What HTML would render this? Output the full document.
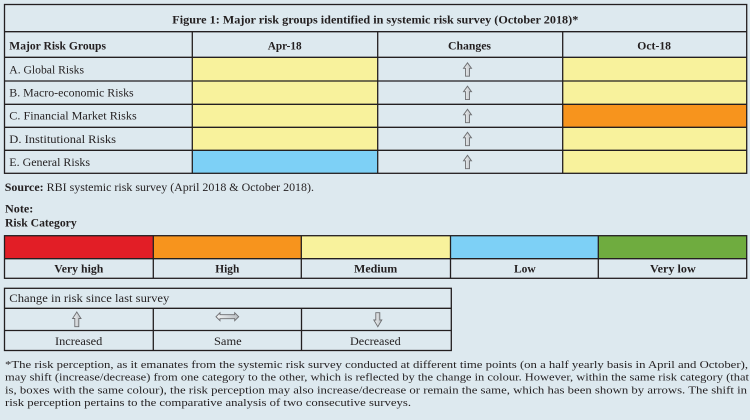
<!DOCTYPE html>
<html>
<head>
<meta charset="utf-8">
<style>
html,body{margin:0;padding:0;background:#dde9ef;}
svg{display:block;}
text{font-family:"Liberation Serif",serif;fill:#231f20;}
.b{font-weight:bold;}
</style>
</head>
<body>
<svg width="750" height="420" viewBox="0 0 750 420" xmlns="http://www.w3.org/2000/svg">
<rect x="0" y="0" width="750" height="420" fill="#dde9ef"/>

<!-- Main table colored cells -->
<rect x="192.3" y="57.3" width="185.4" height="93" fill="#f8f29c"/>
<rect x="192.3" y="150.3" width="185.4" height="23" fill="#7dd0f6"/>
<rect x="562.7" y="57.3" width="184" height="70" fill="#f8f29c"/>
<rect x="562.7" y="104.3" width="184" height="23" fill="#f7941d"/>
<rect x="562.7" y="127.3" width="184" height="46" fill="#f8f29c"/>

<!-- Main table lines -->
<g stroke="#231f20" stroke-width="1.3" fill="none">
<rect x="4.5" y="4.5" width="742.2" height="168.8"/>
<line x1="4.5" y1="31.7" x2="746.7" y2="31.7"/>
<line x1="4.5" y1="57.3" x2="746.7" y2="57.3"/>
<line x1="4.5" y1="81" x2="746.7" y2="81"/>
<line x1="4.5" y1="104.3" x2="746.7" y2="104.3"/>
<line x1="4.5" y1="127.3" x2="746.7" y2="127.3"/>
<line x1="4.5" y1="150.3" x2="746.7" y2="150.3"/>
<line x1="192.3" y1="31.7" x2="192.3" y2="173.3"/>
<line x1="377.7" y1="31.7" x2="377.7" y2="173.3"/>
<line x1="562.7" y1="31.7" x2="562.7" y2="173.3"/>
</g>

<!-- Main table text -->
<text class="b" x="172.3" y="23.3" font-size="12" textLength="406" lengthAdjust="spacingAndGlyphs">Figure 1: Major risk groups identified in systemic risk survey (October 2018)*</text>
<text class="b" x="9.3" y="49.3" font-size="12" textLength="96.7" lengthAdjust="spacingAndGlyphs">Major Risk Groups</text>
<text class="b" x="267.7" y="49.3" font-size="12" textLength="34" lengthAdjust="spacingAndGlyphs">Apr-18</text>
<text class="b" x="448" y="49.3" font-size="12" textLength="43" lengthAdjust="spacingAndGlyphs">Changes</text>
<text class="b" x="637.3" y="49.3" font-size="12" textLength="33.7" lengthAdjust="spacingAndGlyphs">Oct-18</text>

<text x="9.3" y="73.4" font-size="12" textLength="74.7" lengthAdjust="spacingAndGlyphs">A. Global Risks</text>
<text x="9.3" y="96.6" font-size="12" textLength="124.4" lengthAdjust="spacingAndGlyphs">B. Macro-economic Risks</text>
<text x="9.3" y="119.7" font-size="12" textLength="127.4" lengthAdjust="spacingAndGlyphs">C. Financial Market Risks</text>
<text x="9.3" y="142.8" font-size="12" textLength="106.7" lengthAdjust="spacingAndGlyphs">D. Institutional Risks</text>
<text x="9.3" y="165.9" font-size="12" textLength="80.7" lengthAdjust="spacingAndGlyphs">E. General Risks</text>

<!-- Main table arrows -->
<defs>
<linearGradient id="ag" x1="0" y1="0" x2="1" y2="0">
<stop offset="0" stop-color="#f2f4f5"/>
<stop offset="1" stop-color="#b9bec2"/>
</linearGradient>
</defs>
<g fill="url(#ag)" stroke="#6d6e71" stroke-width="0.9" stroke-linejoin="miter">
<polygon points="467.5,62.8 471.5,68.3 469.5,68.3 469.5,76.2 465.5,76.2 465.5,68.3 463.5,68.3"/>
<polygon points="467.5,86.2 471.5,91.7 469.5,91.7 469.5,99.6 465.5,99.6 465.5,91.7 463.5,91.7"/>
<polygon points="467.5,109.3 471.5,114.8 469.5,114.8 469.5,122.7 465.5,122.7 465.5,114.8 463.5,114.8"/>
<polygon points="467.5,132.3 471.5,137.8 469.5,137.8 469.5,145.7 465.5,145.7 465.5,137.8 463.5,137.8"/>
<polygon points="467.5,155.3 471.5,160.8 469.5,160.8 469.5,168.7 465.5,168.7 465.5,160.8 463.5,160.8"/>
</g>

<!-- Source -->
<text x="4.7" y="191" font-size="12" textLength="309.3" lengthAdjust="spacingAndGlyphs"><tspan class="b">Source:</tspan> RBI systemic risk survey (April 2018 &amp; October 2018).</text>

<!-- Note -->
<text class="b" x="5" y="212.5" font-size="12" textLength="28.3" lengthAdjust="spacingAndGlyphs">Note:</text>
<text class="b" x="5" y="226.5" font-size="12" textLength="71.7" lengthAdjust="spacingAndGlyphs">Risk Category</text>

<!-- Risk category legend -->
<rect x="4.5" y="235.7" width="148.8" height="23" fill="#e21e26"/>
<rect x="153.3" y="235.7" width="148" height="23" fill="#f7941d"/>
<rect x="301.3" y="235.7" width="149.2" height="23" fill="#f8f29c"/>
<rect x="450.5" y="235.7" width="147.8" height="23" fill="#7dd0f6"/>
<rect x="598.3" y="235.7" width="148.4" height="23" fill="#6fac3f"/>
<g stroke="#231f20" stroke-width="1.3" fill="none">
<rect x="4.5" y="235.7" width="742.2" height="42.6"/>
<line x1="4.5" y1="258.7" x2="746.7" y2="258.7"/>
<line x1="153.3" y1="235.7" x2="153.3" y2="278.3"/>
<line x1="301.3" y1="235.7" x2="301.3" y2="278.3"/>
<line x1="450.5" y1="235.7" x2="450.5" y2="278.3"/>
<line x1="598.3" y1="235.7" x2="598.3" y2="278.3"/>
</g>
<text class="b" x="54.3" y="272.7" font-size="12" textLength="49" lengthAdjust="spacingAndGlyphs">Very high</text>
<text class="b" x="215.3" y="272.7" font-size="12" textLength="24" lengthAdjust="spacingAndGlyphs">High</text>
<text class="b" x="354" y="272.7" font-size="12" textLength="43.3" lengthAdjust="spacingAndGlyphs">Medium</text>
<text class="b" x="514" y="272.7" font-size="12" textLength="21.7" lengthAdjust="spacingAndGlyphs">Low</text>
<text class="b" x="650" y="272.7" font-size="12" textLength="45.7" lengthAdjust="spacingAndGlyphs">Very low</text>

<!-- Change table -->
<g stroke="#231f20" stroke-width="1.3" fill="none">
<rect x="4.5" y="288.3" width="446.8" height="62.2"/>
<line x1="4.5" y1="308.3" x2="451.3" y2="308.3"/>
<line x1="4.5" y1="330.5" x2="451.3" y2="330.5"/>
<line x1="153.3" y1="308.3" x2="153.3" y2="350.5"/>
<line x1="301.5" y1="308.3" x2="301.5" y2="350.5"/>
</g>
<text x="9.3" y="302" font-size="12" textLength="160" lengthAdjust="spacingAndGlyphs">Change in risk since last survey</text>
<g fill="url(#ag)" stroke="#6d6e71" stroke-width="0.9">
<polygon points="76.8,312 81,318.5 78.8,318.5 78.8,326.7 74.8,326.7 74.8,318.5 72.6,318.5"/>
<polygon points="216,316.7 220,312.7 220,314.7 234.7,314.7 234.7,312.7 238.7,316.7 234.7,320.7 234.7,318.7 220,318.7 220,320.7"/>
<polygon points="377.8,326.7 373.8,320 375.8,320 375.8,312.7 379.8,312.7 379.8,320 381.8,320"/>
</g>
<text x="55" y="345.2" font-size="12" textLength="47.3" lengthAdjust="spacingAndGlyphs">Increased</text>
<text x="214" y="345.2" font-size="12" textLength="27.7" lengthAdjust="spacingAndGlyphs">Same</text>
<text x="350" y="345.2" font-size="12" textLength="50.7" lengthAdjust="spacingAndGlyphs">Decreased</text>

<!-- Footnote -->
<text x="5" y="367.8" font-size="11" textLength="743" lengthAdjust="spacingAndGlyphs">*The risk perception, as it emanates from the systemic risk survey conducted at different time points (on a half yearly basis in April and October),</text>
<text x="5" y="380.6" font-size="11" textLength="744" lengthAdjust="spacingAndGlyphs">may shift (increase/decrease) from one category to the other, which is reflected by the change in colour. However, within the same risk category (that</text>
<text x="5" y="393.4" font-size="11" textLength="742" lengthAdjust="spacingAndGlyphs">is, boxes with the same colour), the risk perception may also increase/decrease or remain the same, which has been shown by arrows. The shift in</text>
<text x="5" y="406.2" font-size="11" textLength="406" lengthAdjust="spacingAndGlyphs">risk perception pertains to the comparative analysis of two consecutive surveys.</text>
</svg>
</body>
</html>
